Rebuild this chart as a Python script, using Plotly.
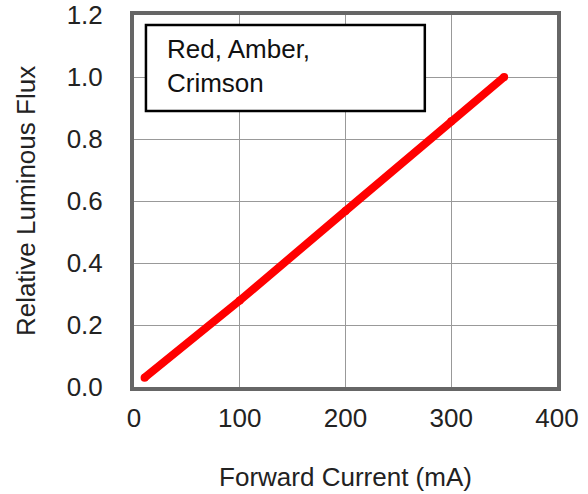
import plotly.graph_objects as go

current_ma = [10, 100, 200, 300, 350]
rel_flux = [0.03, 0.279, 0.568, 0.857, 1.0]
x_ticks = [0, 100, 200, 300, 400]
y_ticks = [0.0, 0.2, 0.4, 0.6, 0.8, 1.0, 1.2]
y_tick_text = ["0.0", "0.2", "0.4", "0.6", "0.8", "1.0", "1.2"]
legend_text = "Red, Amber,<br>Crimson"

FONT = "Liberation Sans, Arial, sans-serif"
FS = 26

fig = go.Figure()
fig.add_trace(go.Scatter(
    x=current_ma, y=rel_flux, mode="lines+markers",
    line=dict(color="#ff0000", width=8),
    marker=dict(color="#ff0000", size=8),
    showlegend=False, hoverinfo="skip"))

fig.add_shape(type="rect", xref="x", yref="y", x0=11.3, x1=275, y0=0.890, y1=1.168,
              line=dict(color="black", width=2.5), fillcolor="white", layer="above")
fig.add_annotation(x=29, y=1.035, xref="x", yref="y", text=legend_text, showarrow=False,
                   xanchor="left", yanchor="middle", align="left",
                   font=dict(family=FONT, size=FS, color="#111"))

fig.update_layout(
    width=588, height=494,
    margin=dict(l=134, r=31, t=15, b=107),
    paper_bgcolor="white", plot_bgcolor="white",
    font=dict(family=FONT, size=FS, color="#222"),
    hovermode=False,
)
fig.update_xaxes(range=[0, 400], tickvals=x_ticks, showgrid=True, gridcolor="#999", gridwidth=1.2,
                 showline=True, linecolor="#666", linewidth=4, mirror=True, zeroline=False,
                 ticks="", ticklabelstandoff=5, automargin=False,
                 title=dict(text="Forward Current (mA)", standoff=37, font=dict(size=FS)))
fig.update_yaxes(range=[0, 1.2], tickvals=y_ticks, ticktext=y_tick_text, showgrid=True,
                 gridcolor="#999", gridwidth=1.2,
                 showline=True, linecolor="#666", linewidth=4, mirror=True, zeroline=False,
                 ticks="", ticklabelstandoff=22, automargin=False,
                 title=dict(text="Relative Luminous Flux", standoff=25, font=dict(size=FS)))

fig.write_html("out.html", config={"displayModeBar": False},
               post_script="document.body.style.margin='0';")
